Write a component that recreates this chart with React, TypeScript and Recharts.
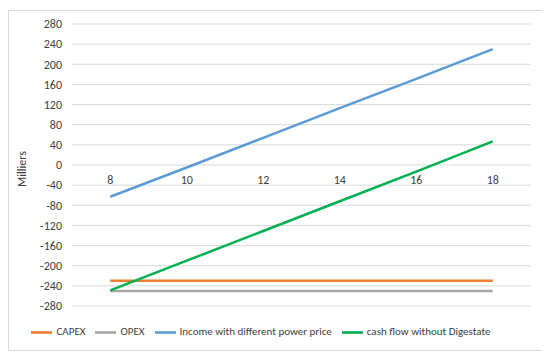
import { LineChart, Line, XAxis, YAxis, CartesianGrid, Legend, ReferenceDot } from 'recharts';

const FONT = "'Liberation Sans Narrow', Carlito, Lato, sans-serif";

// power price (x axis)
const prices = [8, 10, 12, 14, 16, 18];
const yTicks = [-280, -240, -200, -160, -120, -80, -40, 0, 40, 80, 120, 160, 200, 240, 280];

// values in thousands
const capex = [-230, -230, -230, -230, -230, -230];
const opex = [-250, -250, -250, -250, -250, -250];
const income = [-63, -5, 54, 113, 171, 230];
const cashFlow = [-249, -190, -131, -72, -13, 47];

const data = prices.map((p, i) => ({
  price: p,
  capex: capex[i],
  opex: opex[i],
  income: income[i],
  cashFlow: cashFlow[i],
}));

const textColor = '#404040';

function YLabel({ viewBox }: any) {
  const x = viewBox.x + 13;
  const y = viewBox.y + viewBox.height / 2 + 4;
  return (
    <text
      x={x}
      y={y}
      transform={`rotate(-90, ${x}, ${y})`}
      textAnchor="middle"
      dominantBaseline="central"
      fill={textColor}
      fontSize={12}
      fontFamily={FONT}
    >
      Milliers
    </text>
  );
}

export default function App() {
  return (
    <div
      style={{
        width: 533,
        height: 339,
        border: '1px solid #d9d9d9',
        marginTop: 2,
        background: '#fff',
        fontFamily: FONT,
      }}
    >
      <LineChart width={533} height={339} data={data} margin={{ top: 13, right: 11, left: 0, bottom: 26 }}>
        <CartesianGrid vertical={false} stroke="#d9d9d9" />
        <XAxis dataKey="price" type="number" domain={[7, 19]} hide />
        <YAxis
          width={63}
          domain={[-280, 280]}
          ticks={yTicks}
          interval={0}
          axisLine={false}
          tickLine={false}
          tickSize={0}
          tickMargin={10}
          tick={{ fill: textColor, fontSize: 12, fontFamily: FONT }}
          label={<YLabel />}
        />
        {prices.map((p) => (
          <ReferenceDot
            key={p}
            x={p}
            y={0}
            r={0}
            fill="none"
            stroke="none"
            label={{ value: String(p), position: 'bottom', offset: 10, fill: textColor, fontSize: 12, fontFamily: FONT }}
          />
        ))}
        <Legend
          iconType="plainline"
          iconSize={21}
          itemSorter={() => 0}
          wrapperStyle={{ top: 311, bottom: 'auto', left: 7, width: 500, height: 18, fontSize: 11, fontFamily: FONT }}
          formatter={(v) => <span style={{ color: textColor }}>{v}</span>}
        />
        <Line dataKey="capex" name="CAPEX" stroke="#ED7D31" strokeWidth={2.5} dot={false} isAnimationActive={false} />
        <Line dataKey="opex" name="OPEX" stroke="#A5A5A5" strokeWidth={2.5} dot={false} isAnimationActive={false} />
        <Line dataKey="income" name="Income with different power price" stroke="#5B9BD5" strokeWidth={2.5} dot={false} isAnimationActive={false} />
        <Line dataKey="cashFlow" name="cash flow without Digestate" stroke="#00B050" strokeWidth={2.5} dot={false} isAnimationActive={false} />
      </LineChart>
    </div>
  );
}
